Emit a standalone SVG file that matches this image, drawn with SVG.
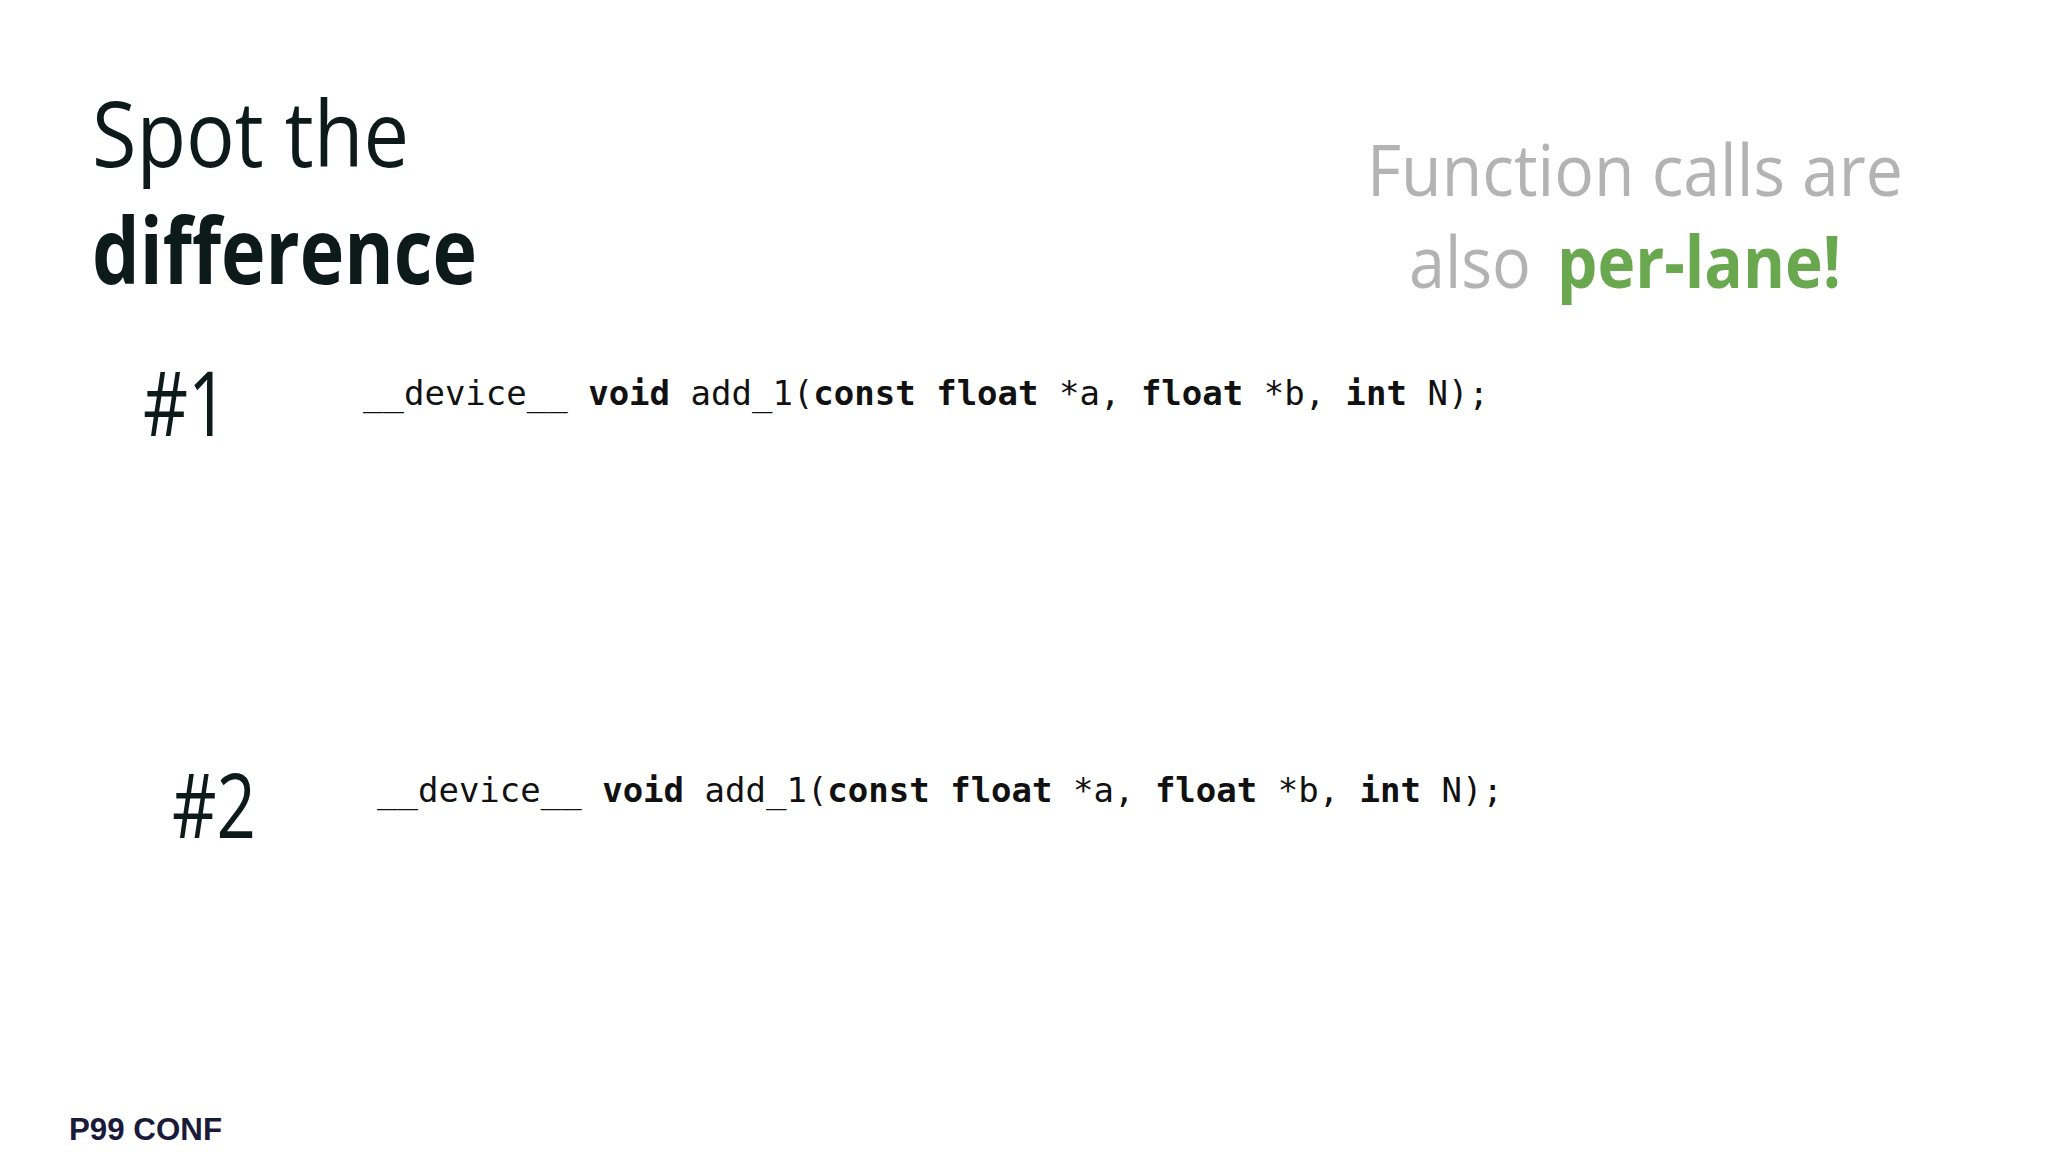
<svg xmlns="http://www.w3.org/2000/svg" width="2048" height="1152" viewBox="0 0 2048 1152">
<style>
.t{font-family:"Open Sans","Liberation Sans",sans-serif;fill:#0d1a1a}
.code{font-family:"DejaVu Sans Mono","Liberation Mono",monospace;font-size:34px;fill:#111}
.b{font-weight:bold}
.h{font-family:"Open Sans","Liberation Sans",sans-serif;font-size:90px;fill:#0d1a1a}
.g{font-family:"Open Sans","Liberation Sans",sans-serif;font-size:72px}
</style>
<rect width="2048" height="1152" fill="#fff"/>
<g id="title">
<text class="t" x="92" y="167" font-size="92" textLength="317" lengthAdjust="spacingAndGlyphs">Spot the</text>
<text class="t" x="92" y="284" font-size="92" font-weight="bold" textLength="385" lengthAdjust="spacingAndGlyphs">difference</text>
</g>
<g id="note">
<text class="g" x="1367" y="196" fill="#b3b3b3" textLength="536" lengthAdjust="spacingAndGlyphs">Function calls are</text>
<text class="g" x="1409" y="288" fill="#b3b3b3" textLength="122" lengthAdjust="spacingAndGlyphs">also</text>
<text class="g" x="1557" y="288" fill="#6aa84f" font-weight="bold" textLength="284" lengthAdjust="spacingAndGlyphs">per-lane!</text>
</g>
<g id="n1">
<text class="h" x="143" y="436" textLength="85" lengthAdjust="spacingAndGlyphs">#1</text>
<text class="code" x="363" y="405">__device__ <tspan class="b">void</tspan> add_1(<tspan class="b">const float</tspan> *a, <tspan class="b">float</tspan> *b, <tspan class="b">int</tspan> N);</text>
</g>
<g id="n2">
<text class="h" x="172" y="838" textLength="84" lengthAdjust="spacingAndGlyphs">#2</text>
<text class="code" x="377" y="802">__device__ <tspan class="b">void</tspan> add_1(<tspan class="b">const float</tspan> *a, <tspan class="b">float</tspan> *b, <tspan class="b">int</tspan> N);</text>
</g>
<g id="logo"><text x="69" y="1140" font-family="Liberation Sans,sans-serif" font-size="32" font-weight="bold" fill="#1a1a3a" textLength="153" lengthAdjust="spacingAndGlyphs">P99 CONF</text></g>
<g id="connectors"/>
</svg>
